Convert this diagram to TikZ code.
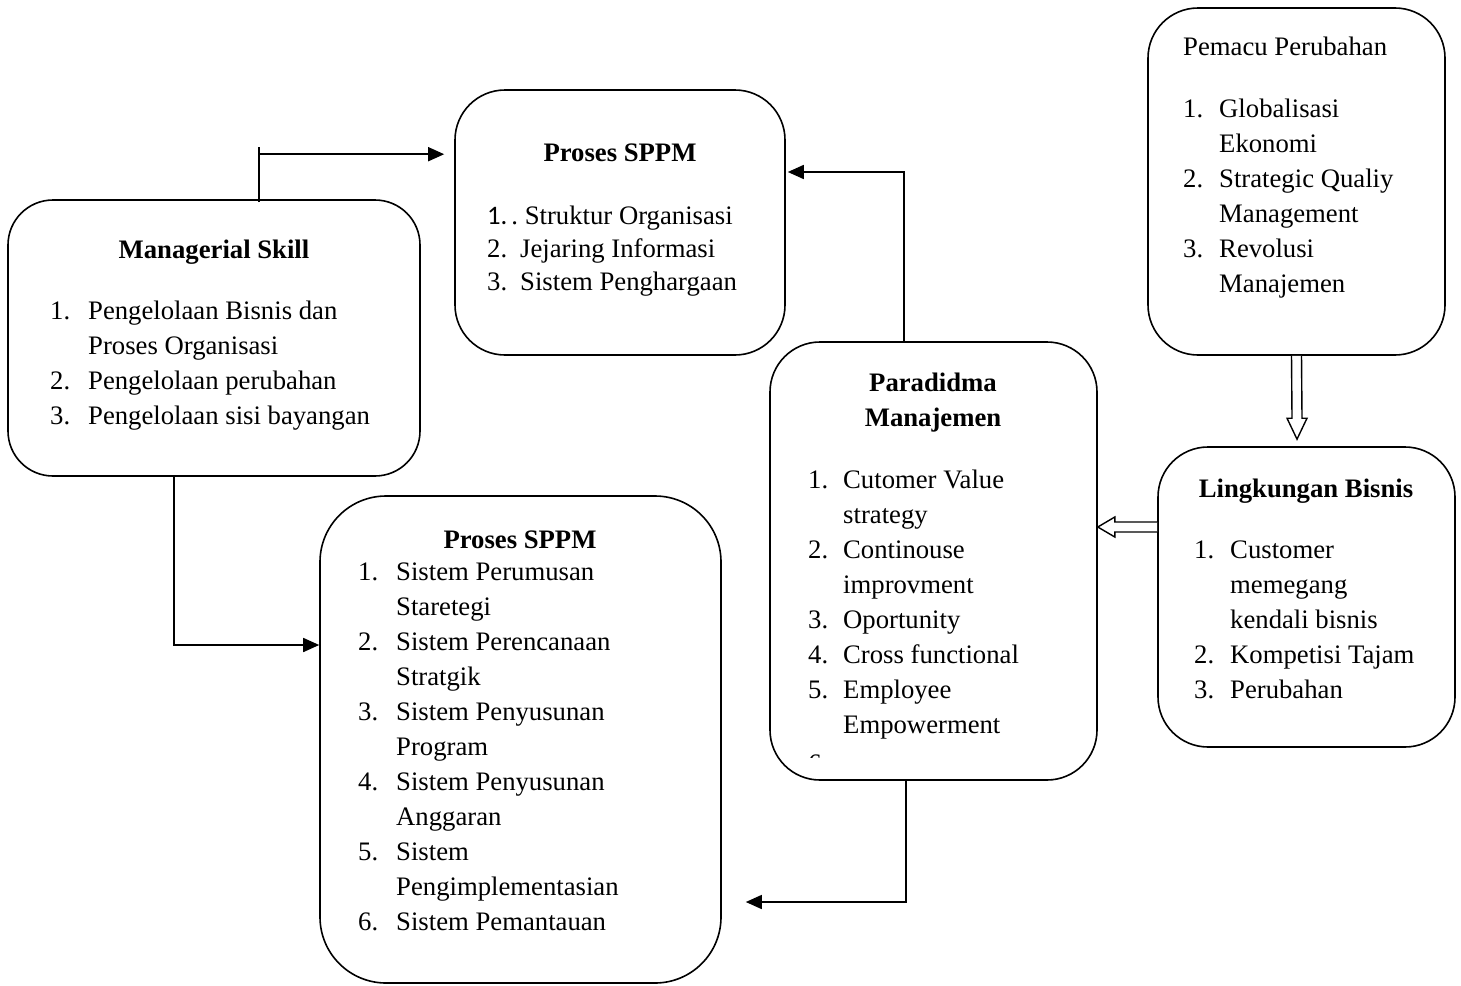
\documentclass[tikz,border=0pt]{standalone}
\usepackage{fontspec}
\setmainfont{Liberation Serif}
\newfontfamily\numfont{Carlito}
\usetikzlibrary{arrows.meta,calc}
\begin{document}
\begin{tikzpicture}[x=1pt,y=-1pt,
  box/.style={draw,line width=1.6pt,rounded corners=50pt,inner sep=0pt},
  arr/.style={line width=1.6pt,-{Triangle[length=16pt,width=14pt]}},
  plain/.style={line width=1.6pt},
  hollow/.style={line width=1.4pt,fill=white},
  body/.style={inner sep=0pt,anchor=base west,font=\fontsize{26.7}{35}\selectfont},
  title/.style={inner sep=0pt,anchor=base,font=\fontsize{26.7}{35}\selectfont\bfseries}]

% page
\fill[white] (0,0) rectangle (1461,985);
\useasboundingbox (0,0) rectangle (1461,985);

% boxes
\node[box,minimum width=297pt,minimum height=347pt] (pem) at (1296.5,181.5) {};
\node[box,minimum width=330pt,minimum height=265pt] (sppmA) at (620,222.5) {};
\node[box,rounded corners=45pt,minimum width=412pt,minimum height=276pt] (man) at (214,338) {};
\node[box,minimum width=327pt,minimum height=438pt] (para) at (933.5,561) {};
\node[box,minimum width=297pt,minimum height=300pt] (ling) at (1306.5,597) {};
\node[box,rounded corners=66pt,minimum width=401pt,minimum height=487pt] (sppmB) at (520.5,739.5) {};

% Pemacu Perubahan
\node[body] (pemT) at (1183,55) {Pemacu Perubahan};
\node[body] (pemL) at (1183,117) {\begin{tabular}[t]{@{}p{36pt}@{}l@{}}
1. & Globalisasi\\
   & Ekonomi\\
2. & Strategic Qualiy\\
   & Management\\
3. & Revolusi\\
   & Manajemen
\end{tabular}};

% Proses SPPM (upper)
\node[title] (sppmAT) at (620,161) {Proses SPPM};
\node[body,font=\fontsize{26.7}{33}\selectfont] (sppmAL) at (487,224) {\begin{tabular}[t]{@{}p{33pt}@{}l@{}}
\multicolumn{2}{@{}l@{}}{{\numfont 1.}\hspace{4pt}.\ Struktur Organisasi}\\
2. & Jejaring Informasi\\
3. & Sistem Penghargaan
\end{tabular}};

% Managerial Skill
\node[title] (manT) at (214,258) {Managerial Skill};
\node[body] (manL) at (50,319) {\begin{tabular}[t]{@{}p{38pt}@{}l@{}}
1. & Pengelolaan Bisnis dan\\
   & Proses Organisasi\\
2. & Pengelolaan perubahan\\
3. & Pengelolaan sisi bayangan
\end{tabular}};

% Paradidma Manajemen
\node[title] (paraT) at (933,391) {\begin{tabular}[t]{@{}c@{}}Paradidma\\Manajemen\end{tabular}};
\node[body] (paraL) at (808,488) {\begin{tabular}[t]{@{}p{35pt}@{}l@{}}
1. & Cutomer Value\\
   & strategy\\
2. & Continouse\\
   & improvment\\
3. & Oportunity\\
4. & Cross functional\\
5. & Employee\\
   & Empowerment
\end{tabular}};
% last item runs past the bottom of the text area
\begin{scope}
  \clip (800,745) rectangle (840,757.5);
  \node[body] (paraSix) at (808,772) {6.};
\end{scope}

% Lingkungan Bisnis
\node[title] (lingT) at (1306,497) {Lingkungan Bisnis};
\node[body] (lingL) at (1194,558) {\begin{tabular}[t]{@{}p{36pt}@{}l@{}}
1. & Customer\\
   & memegang\\
   & kendali bisnis\\
2. & Kompetisi Tajam\\
3. & Perubahan
\end{tabular}};

% Proses SPPM (lower)
\node[title] (sppmBT) at (520,548) {Proses SPPM};
\node[body] (sppmBL) at (358,580) {\begin{tabular}[t]{@{}p{38pt}@{}l@{}}
1. & Sistem Perumusan\\
   & Staretegi\\
2. & Sistem Perencanaan\\
   & Stratgik\\
3. & Sistem Penyusunan\\
   & Program\\
4. & Sistem Penyusunan\\
   & Anggaran\\
5. & Sistem\\
   & Pengimplementasian\\
6. & Sistem Pemantauan
\end{tabular}};

% connectors
\coordinate (mtop) at ($(man.north west)+(252,0)$);
\draw[plain] ($(mtop)+(0,3)$) -- ($(mtop)+(0,-52)$);
\draw[arr] ($(mtop)+(0,-45)$) -- ($(sppmA.west |- mtop)+(-10,-45)$);

\draw[arr] ($(para.north west)+(135,0)$) |- ($(sppmA.east)+(2,-50.5)$);
\draw[arr] ($(man.south west)+(167,0)$) |- ($(sppmB.west)+(0,-94.5)$);
\draw[arr] ($(para.south west)+(137,0)$) |- ($(sppmB.east)+(24,162.5)$);

% hollow arrows
\coordinate (dtip) at ($(ling.north)+(-9.5,-7)$);
\draw[hollow] ($(pem.south)+(-5,0)$) -- ($(dtip)+(-5,-21)$) -- ($(dtip)+(-10,-21)$)
  -- (dtip) -- ($(dtip)+(10,-21)$) -- ($(dtip)+(5,-21)$) -- ($(pem.south)+(5,0)$);

\coordinate (ltip) at ($(para.east)+(0,-34)$);
\draw[hollow] ($(ling.west)+(0,-75)$) -- ($(ltip)+(17,-5)$) -- ($(ltip)+(17,-10)$)
  -- (ltip) -- ($(ltip)+(17,10)$) -- ($(ltip)+(17,5)$) -- ($(ling.west)+(0,-65)$);

\end{tikzpicture}
\end{document}
